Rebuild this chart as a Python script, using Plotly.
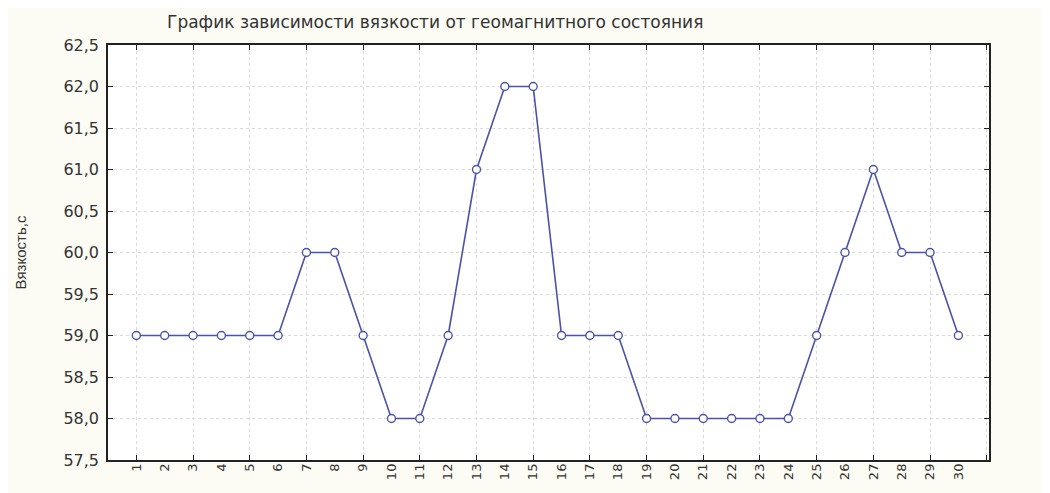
import plotly.graph_objects as go

days = list(range(1, 31))
viscosity = [59, 59, 59, 59, 59, 59, 60, 60, 59, 58, 58, 59, 61, 62, 62,
             59, 59, 59, 58, 58, 58, 58, 58, 58, 59, 60, 61, 60, 60, 59]
x_tick_labels = [str(d) for d in days]
x_grid_vals = list(range(1, 32, 2))
y_ticks = [57.5, 58.0, 58.5, 59.0, 59.5, 60.0, 60.5, 61.0, 61.5, 62.0, 62.5]

line_color = "#4a52aa"
x_range = [0, 31.08]

fig = go.Figure()
fig.add_trace(go.Scatter(
    x=days, y=viscosity, mode="lines+markers",
    line=dict(color=line_color, width=1.6),
    marker=dict(symbol="circle", size=8, color="white",
                line=dict(color=line_color, width=1.4)),
    showlegend=False, xaxis="x", yaxis="y",
))
# invisible trace to carry the labelled overlay axis
fig.add_trace(go.Scatter(
    x=days, y=viscosity, mode="markers", marker=dict(opacity=0),
    hoverinfo="skip", showlegend=False, xaxis="x2", yaxis="y",
))

fig.update_layout(
    xaxis=dict(
        range=x_range, tickmode="array", tickvals=x_grid_vals,
        showticklabels=False, ticks="inside", ticklen=5, tickcolor="#222",
        showgrid=True, gridcolor="#dadada", griddash="dot", gridwidth=1,
        showline=True, linecolor="#222", linewidth=1.5, mirror="ticks",
        zeroline=False, automargin=False,
    ),
    xaxis2=dict(
        range=x_range, overlaying="x", side="bottom",
        tickmode="array", tickvals=days, ticktext=x_tick_labels,
        tickangle=-90, ticks="", showgrid=False, showline=False, zeroline=False,
        automargin=False,
        tickfont=dict(family="DejaVu Sans", size=13, color="#333"),
    ),
    yaxis=dict(
        range=[57.5, 62.5], tickmode="array", tickvals=y_ticks, tickformat=".1f",
        ticks="inside", ticklen=5, tickcolor="#222", ticklabelstandoff=4,
        showgrid=True, gridcolor="#dadada", griddash="dot", gridwidth=1,
        showline=True, linecolor="#222", linewidth=1.5, mirror="ticks",
        tickfont=dict(family="DejaVu Sans", size=16, color="#333"),
        zeroline=False, automargin=False,
        title=dict(text="Вязкость,с", standoff=33,
                   font=dict(family="Liberation Sans Narrow, Liberation Sans", size=15, color="#333")),
    ),
    width=1042, height=485,
    margin=dict(l=100, r=61, t=37, b=33),
    paper_bgcolor="#fcfcf4",
    plot_bgcolor="white",
    separators=", ",
    title=dict(text="График зависимости вязкости от геомагнитного состояния",
               x=0.41, xanchor="center", y=1 - 14 / 485, yanchor="middle",
               font=dict(family="DejaVu Sans", size=17, color="#333")),
)

fig.write_html("out.html")
